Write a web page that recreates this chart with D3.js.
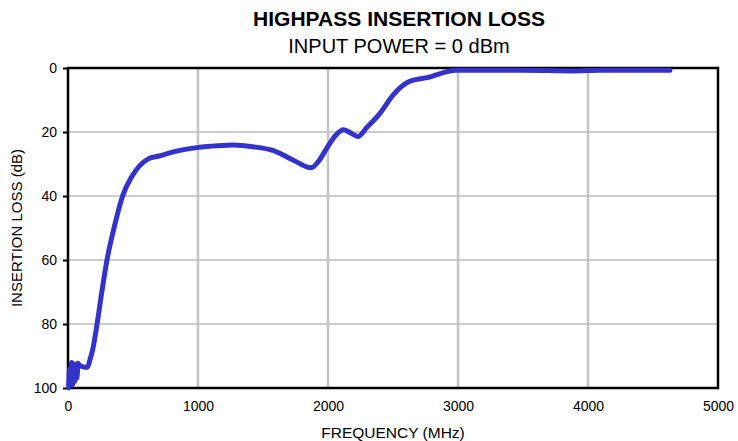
<!DOCTYPE html>
<html><head><meta charset="utf-8">
<script src="https://cdn.jsdelivr.net/npm/d3@7"></script>
<style>body{margin:0;background:#fff;} text{font-family:"Liberation Sans",Arial,sans-serif;}</style>
</head><body>
<svg id="chart" width="738" height="441"></svg>
<script>
const titleText = "HIGHPASS INSERTION LOSS";
const subtitleText = "INPUT POWER = 0 dBm";
const xLabel = "FREQUENCY (MHz)";
const yLabel = "INSERTION LOSS (dB)";
const xTicks = [0, 1000, 2000, 3000, 4000, 5000];
const yTicks = [0, 20, 40, 60, 80, 100];
const freqMHz = [5, 12, 20, 28, 36, 44, 52, 60, 68, 78, 90, 110, 130, 150, 170, 190, 220, 260, 300, 360, 420, 490, 618, 700, 810, 1003, 1150, 1272, 1420, 1580, 1733, 1870, 1930, 1990, 2060, 2118, 2170, 2230, 2300, 2400, 2500, 2560, 2620, 2760, 2990, 3200, 3500, 3880, 4100, 4400, 4630];
const lossDb =  [100, 94, 99, 92, 99, 93, 98, 92.5, 97, 92.3, 93, 93.3, 93.5, 93.5, 91, 88, 81, 70, 60, 49, 40, 34, 28.4, 27.5, 26.2, 24.8, 24.3, 24.1, 24.6, 25.8, 28.8, 31.2, 29, 25.1, 21, 19.3, 20.2, 21.4, 18.5, 14.2, 8.5, 6, 4.3, 3.0, 0.7, 0.7, 0.7, 0.9, 0.7, 0.7, 0.7];

const svg = d3.select("#chart");
const m = {l:68, r:20, t:68, b:53};
const W = 738, H = 441;
const x = d3.scaleLinear().domain([0, 5000]).range([m.l, W - m.r]);
const y = d3.scaleLinear().domain([0, 100]).range([m.t, H - m.b]);
const fmt = d3.format("d");

// horizontal gridlines
svg.append("g").selectAll("line").data(yTicks.filter(d => d > 0 && d < 100)).join("line")
  .attr("x1", x(0)).attr("x2", x(5000)).attr("y1", d => y(d)).attr("y2", d => y(d))
  .attr("stroke", "#bdbdbd").attr("stroke-width", 1.5);
// vertical gridlines
svg.append("g").selectAll("line").data(xTicks.filter(d => d > 0 && d < 5000)).join("line")
  .attr("x1", d => x(d)).attr("x2", d => x(d)).attr("y1", y(0)).attr("y2", y(100))
  .attr("stroke", "#c4c4c4").attr("stroke-width", 2.5);

// y axis
const yAxis = svg.append("g").attr("transform", `translate(${x(0)},0)`)
  .call(d3.axisLeft(y).tickValues(yTicks).tickFormat(fmt).tickSize(5).tickPadding(6));
yAxis.select(".domain").remove();
yAxis.selectAll(".tick line").attr("stroke", "#000").attr("stroke-width", 2);
yAxis.selectAll("text").attr("font-size", 14).attr("fill", "#000")
  .style("font-family", "'Liberation Sans', Arial, sans-serif");

// x axis
const xAxis = svg.append("g").attr("transform", `translate(0,${y(100)})`)
  .call(d3.axisBottom(x).tickValues(xTicks).tickFormat(fmt).tickSize(0).tickPadding(13));
xAxis.select(".domain").remove();
xAxis.selectAll("text").attr("font-size", 14).attr("fill", "#000")
  .style("font-family", "'Liberation Sans', Arial, sans-serif");

// frame
svg.append("rect").attr("x", x(0)).attr("y", y(0)).attr("width", x(5000) - x(0)).attr("height", y(100) - y(0))
  .attr("fill", "none").attr("stroke", "#000").attr("stroke-width", 2.5);

// curve
const line = d3.line().x((d, i) => x(freqMHz[i])).y(d => y(d)).curve(d3.curveMonotoneX);
svg.append("path").datum(lossDb).attr("d", line)
  .attr("fill", "none").attr("stroke", "#3333cc").attr("stroke-width", 5)
  .attr("stroke-linejoin", "round").attr("stroke-linecap", "round");

// titles
const cx = 399;
svg.append("text").attr("x", cx).attr("y", 26).attr("text-anchor", "middle")
  .attr("font-size", 20.5).attr("font-weight", "bold").attr("textLength", 292).attr("lengthAdjust", "spacingAndGlyphs").text(titleText);
svg.append("text").attr("x", cx).attr("y", 53).attr("text-anchor", "middle")
  .attr("font-size", 20).text(subtitleText);
svg.append("text").attr("x", 393).attr("y", 438).attr("text-anchor", "middle")
  .attr("font-size", 15.5).text(xLabel);
svg.append("text").attr("transform", `translate(22,${(y(0) + y(100)) / 2}) rotate(-90)`)
  .attr("text-anchor", "middle").attr("font-size", 15).text(yLabel);
</script>
</body></html>
